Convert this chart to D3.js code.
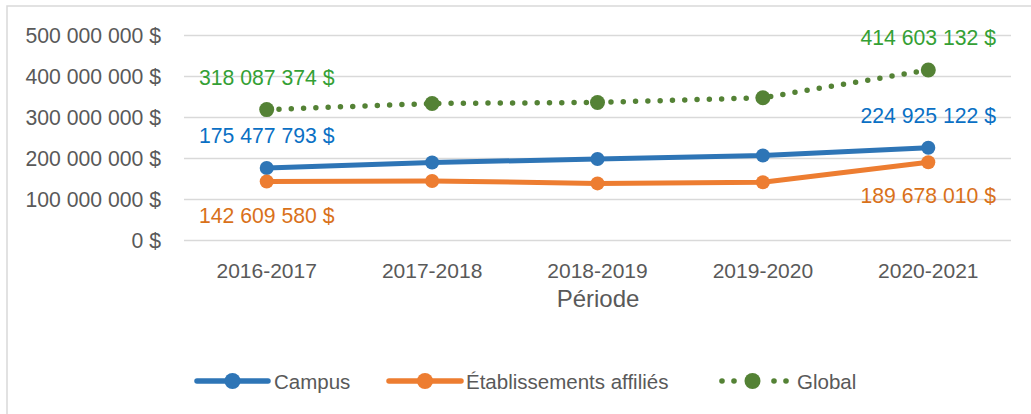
<!DOCTYPE html>
<html><head><meta charset="utf-8">
<script src="https://cdn.jsdelivr.net/npm/d3@7"></script>
<style>body{margin:0;background:#fff}svg{display:block}text{font-family:"Liberation Sans",Arial,sans-serif}</style>
</head><body>
<svg id="c" width="1031" height="414"></svg>
<script>
const categories = ["2016-2017","2017-2018","2018-2019","2019-2020","2020-2021"];
const campus = [175477793, 189000000, 197500000, 206000000, 224925122];
const etablissements = [142609580, 144000000, 138000000, 141000000, 189678010];
const global = [318087374, 333000000, 335500000, 347000000, 414603132];
const seriesNames = ["Campus","Établissements affiliés","Global"];
const yTicks = [0,100000000,200000000,300000000,400000000,500000000];
const xTitle = "Période";

const fmt = v => d3.format(",")(Math.round(v)).replace(/,/g," ") + " $";
const svg = d3.select("#c");
const W = 1031, H = 414;

// chart border
svg.append("rect").attr("x",7).attr("y",6).attr("width",W+10).attr("height",H+10)
  .attr("fill","none").attr("stroke","#d9d9d9").attr("stroke-width",1.5);

const x = d3.scaleBand().domain(categories).range([184,1011]).padding(0);
const y = d3.scaleLinear().domain([0,500000000]).range([240,35]);
const cx = d => x(d) + x.bandwidth()/2;

// y axis + gridlines
const ya = svg.append("g").attr("transform","translate(184,0)")
  .call(d3.axisLeft(y).tickValues(yTicks).tickSize(-827).tickFormat(fmt).tickPadding(23));
ya.select(".domain").remove();
ya.selectAll(".tick line").attr("stroke","#d9d9d9").attr("stroke-width",1.5);
ya.selectAll(".tick text").attr("fill","#595959").style("font-size","21.2px")
  .attr("dy","0.36em");

// x axis labels
const xa = svg.append("g").attr("transform","translate(0,240)")
  .call(d3.axisBottom(x).tickSize(0).tickPadding(0));
xa.select(".domain").remove();
xa.selectAll(".tick text").attr("fill","#595959").style("font-size","21px")
  .attr("y",38).attr("dy",0);

svg.append("text").attr("x",598).attr("y",307).attr("text-anchor","middle")
  .attr("fill","#595959").style("font-size","24px").text(xTitle);

const series = [
  {name:seriesNames[0], vals:campus, color:"#2E75B6", label:"#0A70C4", dash:null, w:5, r:7, pos:"above"},
  {name:seriesNames[1], vals:etablissements, color:"#ED7D31", label:"#D9711A", dash:null, w:5, r:7, pos:"below"},
  {name:seriesNames[2], vals:global, color:"#548235", label:"#34A034", dash:"0 12.3", w:5.5, r:7.5, pos:"above"}
];

const line = d3.line().x((d,i)=>cx(categories[i])).y(d=>y(d));
series.forEach(s=>{
  const p = svg.append("path").datum(s.vals).attr("d",line).attr("fill","none")
    .attr("stroke",s.color).attr("stroke-width",s.w).attr("stroke-linejoin","round")
    .attr("stroke-linecap","round");
  if(s.dash) p.attr("stroke-dasharray",s.dash);
  svg.append("g").selectAll("circle").data(s.vals).join("circle")
    .attr("cx",(d,i)=>cx(categories[i])).attr("cy",d=>y(d)).attr("r",s.r).attr("fill",s.color);
});
series.forEach(s=>{
  [0, s.vals.length-1].forEach(i=>{
    const v = s.vals[i];
    svg.append("text").attr("x",cx(categories[i]))
      .attr("y", y(v) + (s.pos==="above" ? -25 : 41))
      .attr("text-anchor","middle").attr("fill",s.label).style("font-size","21.2px")
      .text(fmt(v));
  });
});

// legend
const legend = [
  {s:series[0], x0:197, x1:268, tx:274},
  {s:series[1], x0:389, x1:461, tx:466},
  {s:series[2], x0:719, x1:786, tx:797}
];
const ly = 381;
legend.forEach(l=>{
  const g = svg.append("g");
  if(l.s.dash){
    [722,734,774,786].forEach(dx=>g.append("circle").attr("cx",dx).attr("cy",ly).attr("r",2.8).attr("fill",l.s.color));
  } else {
    g.append("line").attr("x1",l.x0).attr("x2",l.x1).attr("y1",ly).attr("y2",ly)
      .attr("stroke",l.s.color).attr("stroke-width",5.5).attr("stroke-linecap","round");
  }
  g.append("circle").attr("cx",(l.x0+l.x1)/2).attr("cy",ly).attr("r",8).attr("fill",l.s.color);
  g.append("text").attr("x",l.tx).attr("y",ly+7.5).attr("fill","#595959")
    .style("font-size","20.5px").text(l.s.name);
});
</script>
</body></html>
